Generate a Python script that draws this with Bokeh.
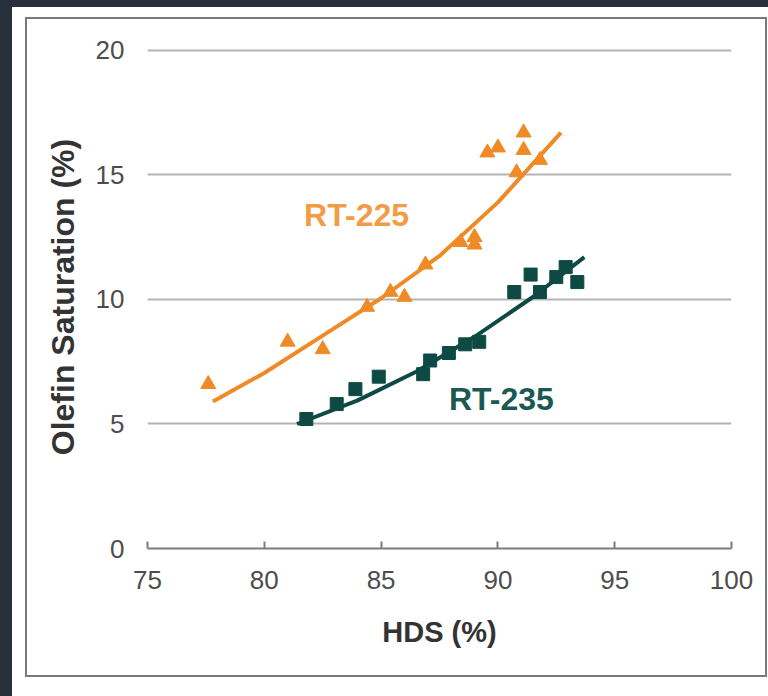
from bokeh.plotting import figure
from bokeh.layouts import column
from bokeh.models import FixedTicker, ColumnDataSource, Grid
from bokeh.core.properties import value
from bokeh.embed import file_html
from bokeh.resources import INLINE

# RT-225 (orange triangles)
rt225_hds = [77.6, 81.0, 82.5, 84.4, 85.4, 86.0, 86.9, 88.4, 89.0, 89.0, 89.55, 90.0, 91.1, 91.1, 91.8, 90.8]
rt225_sat = [6.6, 8.3, 8.0, 9.7, 10.3, 10.1, 11.4, 12.3, 12.5, 12.2, 15.9, 16.1, 16.7, 16.0, 15.6, 15.1]
rt225_fit_hds = [77.8, 80.0, 82.5, 85.0, 87.5, 90.0, 92.7]
rt225_fit_sat = [5.9, 7.05, 8.55, 10.05, 11.75, 13.9, 16.7]

# RT-235 (teal squares)
rt235_hds = [81.8, 83.1, 83.9, 84.9, 86.8, 87.1, 87.9, 88.6, 89.2, 90.7, 91.4, 91.8, 92.5, 92.9, 93.4]
rt235_sat = [5.2, 5.8, 6.4, 6.9, 7.0, 7.55, 7.85, 8.2, 8.3, 10.3, 11.0, 10.3, 10.9, 11.3, 10.7]
rt235_fit_hds = [81.4, 84.0, 86.5, 89.0, 91.5, 93.7]
rt235_fit_sat = [5.0, 5.95, 7.1, 8.5, 10.1, 11.7]

x_ticks = [75, 80, 85, 90, 95, 100]
y_ticks = [0, 5, 10, 15, 20]
grid_ticks = [5, 10, 15, 20]

series_labels = ["RT-225", "RT-235"]
label_x = [83.95, 90.15]
label_y = [13.4, 6.0]

ORANGE = "#f08a26"
ORANGE_TXT = "#f39b45"
TEAL = "#0d4a44"
TEAL_TXT = "#1b5a54"

p = figure(width=738, height=656, x_range=(75, 100), y_range=(0, 20.2),
           output_backend="svg", toolbar_location=None,
           min_border_left=120, min_border_right=34,
           min_border_top=26, min_border_bottom=127)
p.outline_line_color = None
p.background_fill_color = "white"
p.border_fill_color = "white"

# keep only a horizontal grid
p.center = [r for r in p.center if not isinstance(r, Grid)]
p.add_layout(Grid(dimension=1, ticker=FixedTicker(ticks=grid_ticks),
                  grid_line_color="#b4b4b4", grid_line_width=2))

font = "Liberation Sans"

p.xaxis.ticker = FixedTicker(ticks=x_ticks)
p.xaxis.axis_line_color = "#7d7d7d"
p.xaxis.axis_line_width = 2
p.xaxis.major_tick_line_color = "#7d7d7d"
p.xaxis.major_tick_line_width = 2
p.xaxis.major_tick_in = 7
p.xaxis.major_tick_out = 0
p.xaxis.minor_tick_line_color = None
p.xaxis.major_label_standoff = 22
p.xaxis.axis_label = "HDS (%)"
p.xaxis.axis_label_standoff = 24

p.yaxis.ticker = FixedTicker(ticks=y_ticks)
p.yaxis.axis_line_color = None
p.yaxis.major_tick_line_color = None
p.yaxis.minor_tick_line_color = None
p.yaxis.major_label_standoff = 17
p.yaxis.axis_label = "Olefin Saturation (%)"
p.yaxis.axis_label_standoff = 12

for ax in (p.xaxis, p.yaxis):
    ax.major_label_text_font = font
    ax.major_label_text_font_size = "26px"
    ax.major_label_text_color = "#4d4d4d"
    ax.axis_label_text_font = font
    ax.axis_label_text_font_style = "bold"
    ax.axis_label_text_color = "#333333"
p.xaxis.axis_label_text_font_size = "29px"
p.yaxis.axis_label_text_font_size = "32px"

p.line(rt225_fit_hds, rt225_fit_sat, line_color=ORANGE, line_width=4)
p.line(rt235_fit_hds, rt235_fit_sat, line_color=TEAL, line_width=4)
p.scatter(rt225_hds, rt225_sat, marker="triangle", size=15, fill_color=ORANGE, line_color=ORANGE)
p.scatter(rt235_hds, rt235_sat, marker="square", size=13, fill_color=TEAL, line_color=TEAL)

src = ColumnDataSource(dict(x=label_x, y=label_y, t=series_labels, c=[ORANGE_TXT, TEAL_TXT]))
p.text(x="x", y="y", text="t", text_color="c", source=src,
       text_font=value(font), text_font_style="bold", text_font_size="32px",
       text_align="center", text_baseline="middle")

innerwhite = column(p, width=738, height=656, margin=(2, 2, 2, 2),
                    styles={"background-color": "white"})
framebox = column(innerwhite, width=742, height=660, margin=(10, 0, 0, 13),
                  styles={"background-color": "#7a7a7a"})
whitebox = column(framebox, width=756, height=689, margin=(7, 0, 0, 12),
                  styles={"background-color": "white"})
root = column(whitebox, width=768, height=696,
              styles={"background-color": "#27303b"})

open("out.html", "w").write(file_html(root, INLINE))
